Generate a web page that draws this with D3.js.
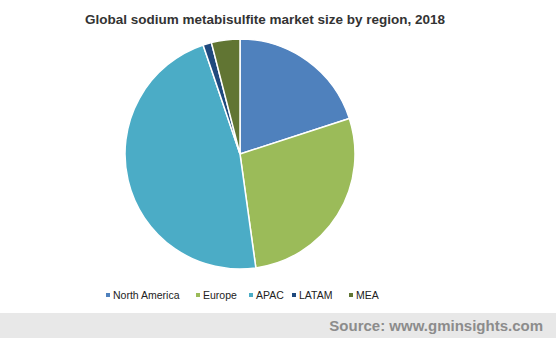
<html>
<head>
  <script src="https://d3js.org/d3.v7.min.js"></script>
  <style>
    body { margin: 0; background: #fff; }
    text { font-family: "Liberation Sans", Arial, sans-serif; }
  </style>
</head>
<body>
  <svg id="chart" width="556" height="338"></svg>
  <script>
    // region shares (%)
    const regions = ["North America", "Europe", "APAC", "LATAM", "MEA"];
    const shares = [20.0, 27.8, 47.0, 1.2, 4.0];
    const colors = ["#4f81bd", "#9bbb59", "#4bacc6", "#1f497d", "#617533"];

    const width = 556, height = 338;
    const cx = 240, cy = 154, radius = 115;

    const svg = d3.select("svg#chart");

    svg.append("text")
      .attr("x", 265)
      .attr("y", 24)
      .attr("text-anchor", "middle")
      .attr("font-size", "13.5px")
      .attr("font-weight", "bold")
      .attr("fill", "#333")
      .text("Global sodium metabisulfite market size by region, 2018");

    const data = regions.map((r, i) => ({ region: r, value: shares[i] }));
    const colorScale = d3.scaleOrdinal().domain(regions).range(colors);

    const pie = d3.pie().value(d => d.value).sort(null);
    const arc = d3.arc().innerRadius(0).outerRadius(radius);

    const pieG = svg.append("g")
      .attr("transform", `translate(${cx},${cy})`);

    pieG.selectAll("path")
      .data(pie(data))
      .join("path")
      .attr("d", arc)
      .attr("fill", d => colorScale(d.data.region))
      .attr("stroke", "#fff")
      .attr("stroke-width", 1.5);

    // legend
    const legendX = [106, 196, 249, 292, 349];
    const legend = svg.append("g").attr("class", "legend");
    regions.forEach((r, i) => {
      const g = legend.append("g").attr("transform", `translate(${legendX[i]},295)`);
      g.append("rect")
        .attr("x", 0).attr("y", -2)
        .attr("width", 4).attr("height", 4)
        .attr("fill", colorScale(r));
      g.append("text")
        .attr("x", 7).attr("y", 4)
        .attr("font-size", "10.5px")
        .attr("fill", "#222")
        .text(r);
    });

    // footer band
    svg.append("rect")
      .attr("x", 0).attr("y", 313)
      .attr("width", width).attr("height", height - 313)
      .attr("fill", "#e8e8e8");
    svg.append("text")
      .attr("x", 543)
      .attr("y", 331)
      .attr("text-anchor", "end")
      .attr("font-size", "15px")
      .attr("font-weight", "bold")
      .attr("fill", "#8c8c8c")
      .text("Source: www.gminsights.com");
  </script>
</body>
</html>
